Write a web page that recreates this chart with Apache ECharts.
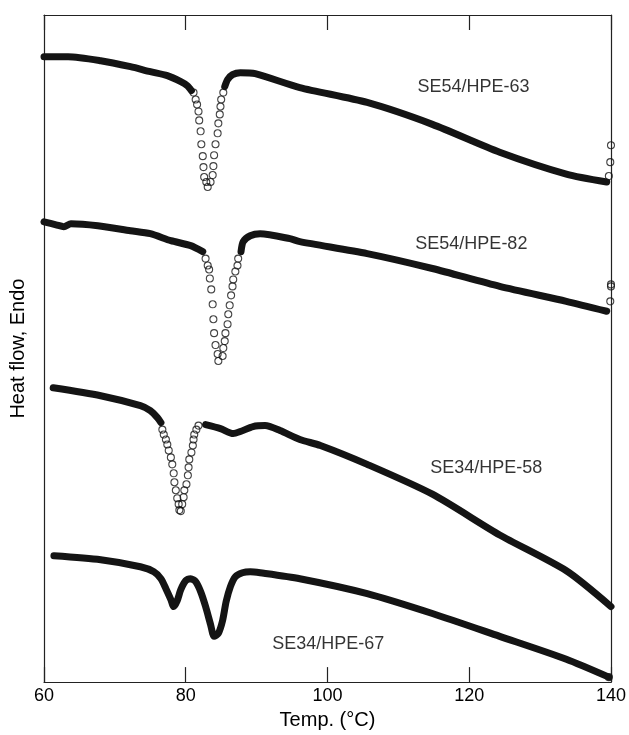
<!DOCTYPE html>
<html>
<head>
<meta charset="utf-8">
<script src="https://cdn.jsdelivr.net/npm/echarts@6/dist/echarts.min.js"></script>
<style>
html,body{margin:0;padding:0;background:#fff;}
#chart{width:629px;height:735px;}
</style>
</head>
<body>
<div id="chart"></div>
<script>
// ---- Data (temperature in °C, heat flow in arbitrary units) ----
const xTicks = [60, 80, 100, 120, 140];

// SE54/HPE-63
const hpe63_bandT  = [60.0, 63.4, 68.0, 72.2, 75.0, 77.4, 79.3, 80.2, 80.8, null, 85.5, 85.9, 86.6, 87.7, 89.8, 96.1, 105.6, 114.8, 124.3, 133.7, 139.4];
const hpe63_bandHF = [62.9, 62.9, 62.5, 61.9, 61.4, 61.0, 60.4, 60.0, 59.5, null, 59.9, 60.6, 61.1, 61.3, 61.2, 59.8, 58.3, 56.1, 53.3, 51.1, 50.3];
const hpe63_ptT  = [81.1, 81.4, 81.6, 81.8, 81.9, 82.1, 82.2, 82.4, 82.5, 82.6, 82.9, 83.1, 83.5, 83.8, 83.9, 84.0, 84.2, 84.5, 84.6, 84.8, 84.9, 85.0, 85.3, 139.7, 139.9, 140.0];
const hpe63_ptHF = [59.3, 58.6, 58.1, 57.4, 56.5, 55.4, 54.1, 52.9, 51.8, 50.8, 50.3, 49.8, 50.3, 51.0, 51.9, 53.0, 54.1, 55.2, 56.2, 57.1, 57.9, 58.6, 59.3, 50.9, 52.3, 54.0];

// SE54/HPE-82
const hpe82_bandT  = [60.0, 61.7, 62.8, 63.8, 67.6, 72.2, 75.0, 77.9, 80.7, 82.4, null, 87.8, 88.1, 89.1, 90.5, 94.7, 96.1, 105.6, 114.8, 124.3, 133.7, 139.4];
const hpe82_bandHF = [46.3, 46.0, 45.8, 46.1, 45.9, 45.4, 45.1, 44.4, 43.9, 43.3, null, 43.3, 44.3, 44.9, 45.1, 44.6, 44.3, 43.1, 41.6, 39.8, 38.3, 37.3];
const hpe82_ptT  = [82.8, 83.1, 83.3, 83.4, 83.6, 83.8, 83.9, 84.0, 84.2, 84.5, 84.6, 85.2, 85.3, 85.5, 85.6, 85.9, 86.0, 86.2, 86.4, 86.6, 86.7, 87.0, 87.3, 87.4, 139.9, 140.0, 140.0];
const hpe82_ptHF = [42.6, 41.9, 41.5, 40.6, 39.5, 38.0, 36.5, 35.1, 33.9, 33.0, 32.3, 32.8, 33.6, 34.3, 35.1, 36.0, 37.0, 37.9, 38.9, 39.8, 40.5, 41.3, 41.9, 42.6, 38.3, 39.8, 40.0];

// SE34/HPE-58
const hpe58_bandT  = [61.3, 68.0, 73.6, 75.0, 76.0, 76.5, null, 82.8, 84.9, 86.7, 87.7, 89.5, 91.2, 93.3, 96.1, 99.0, 105.6, 114.8, 124.3, 133.7, 140.0];
const hpe58_bandHF = [29.6, 28.8, 27.8, 27.3, 26.6, 26.1, null, 25.9, 25.5, 25.0, 25.2, 25.7, 25.8, 25.3, 24.4, 23.8, 21.9, 18.9, 14.8, 11.2, 7.6];
const hpe58_ptT  = [76.7, 76.9, 77.2, 77.4, 77.6, 77.9, 78.1, 78.3, 78.4, 78.6, 78.8, 79.0, 79.1, 79.3, 79.5, 79.7, 79.8, 80.1, 80.3, 80.4, 80.5, 80.8, 81.0, 81.1, 81.2, 81.5, 81.8];
const hpe58_ptHF = [25.4, 24.9, 24.4, 23.9, 23.3, 22.6, 21.9, 21.0, 20.1, 19.3, 18.5, 17.9, 17.3, 17.2, 17.9, 18.6, 19.3, 19.9, 20.8, 21.6, 22.4, 23.1, 23.8, 24.4, 24.9, 25.4, 25.8];

// SE34/HPE-67
const hpe67_bandT  = [61.4, 68.0, 73.6, 75.5, 76.5, 77.2, 77.9, 78.3, 78.8, 79.3, 80.0, 80.7, 81.4, 82.1, 82.8, 83.5, 84.0, 84.6, 85.2, 85.7, 86.3, 87.0, 88.0, 89.1, 90.5, 96.1, 105.6, 114.8, 124.3, 133.7, 139.7];
const hpe67_bandHF = [12.7, 12.3, 11.6, 11.1, 10.4, 9.4, 8.3, 7.6, 8.2, 9.3, 10.2, 10.4, 10.1, 9.1, 7.6, 5.8, 4.6, 4.9, 6.2, 8.1, 9.6, 10.6, 11.0, 11.1, 11.0, 10.4, 8.9, 6.9, 4.6, 2.3, 0.5];
const hpe67_ptT  = [139.7];
const hpe67_ptHF = [0.5];

// Curve labels: [temperature, heat flow, text]
const curveLabels = [
  [120.6, 59.9, 'SE54/HPE-63'],
  [120.3, 44.1, 'SE54/HPE-82'],
  [122.4, 21.5, 'SE34/HPE-58'],
  [100.1, 3.8, 'SE34/HPE-67']
];

// ---- Chart ----
const FONT = 'Liberation Sans, Arial, Helvetica, sans-serif';
const INK = '#141414';
function pairs(t, h) { return t.map((v, i) => (v === null ? [null, null] : [v, h[i]])); }
function band(t, h) {
  return {
    type: 'line', data: pairs(t, h), showSymbol: false, smooth: 0.25,
    connectNulls: false, clip: false, silent: true, xAxisIndex: 0, yAxisIndex: 0,
    lineStyle: { color: INK, width: 7, cap: 'round', join: 'round' }
  };
}
function pts(t, h) {
  return {
    type: 'scatter', data: pairs(t, h), symbol: 'circle', symbolSize: 7, clip: false, silent: true,
    xAxisIndex: 0, yAxisIndex: 0,
    itemStyle: { color: 'rgba(0,0,0,0)', borderColor: INK, borderWidth: 1.1 }
  };
}

const chart = echarts.init(document.getElementById('chart'), null, { renderer: 'canvas' });
const axisLineStyle = { color: '#222', width: 1.2 };
chart.setOption({
  animation: false,
  backgroundColor: '#fff',
  grid: { left: 43, right: 17, top: 15, bottom: 49, containLabel: false },
  xAxis: [
    {
      type: 'value', position: 'bottom', min: 60, max: 140, interval: 20,
      name: 'Temp. (°C)', nameLocation: 'middle', nameGap: 26,
      nameTextStyle: { fontFamily: FONT, fontSize: 20, color: '#000' },
      axisLine: { show: true, onZero: false, lineStyle: axisLineStyle },
      axisTick: { show: true, inside: true, length: 15, lineStyle: axisLineStyle },
      axisLabel: { show: true, fontFamily: FONT, fontSize: 18, color: '#000', margin: 5 },
      splitLine: { show: false }
    },
    {
      type: 'value', position: 'top', min: 60, max: 140, interval: 20,
      axisLine: { show: true, onZero: false, lineStyle: axisLineStyle },
      axisTick: { show: true, inside: true, length: 15, lineStyle: axisLineStyle },
      axisLabel: { show: false },
      splitLine: { show: false }
    }
  ],
  yAxis: [
    {
      type: 'value', position: 'left', min: 0, max: 67.1,
      name: 'Heat flow, Endo', nameLocation: 'middle', nameGap: 16, nameRotate: 90,
      nameTextStyle: { fontFamily: FONT, fontSize: 20, color: '#000' },
      axisLine: { show: true, onZero: false, lineStyle: axisLineStyle },
      axisTick: { show: false }, axisLabel: { show: false }, splitLine: { show: false }
    },
    {
      type: 'value', position: 'right', min: 0, max: 67.1,
      axisLine: { show: true, onZero: false, lineStyle: axisLineStyle },
      axisTick: { show: false }, axisLabel: { show: false }, splitLine: { show: false }
    }
  ],
  series: [
    band(hpe63_bandT, hpe63_bandHF), pts(hpe63_ptT, hpe63_ptHF),
    band(hpe82_bandT, hpe82_bandHF), pts(hpe82_ptT, hpe82_ptHF),
    band(hpe58_bandT, hpe58_bandHF), pts(hpe58_ptT, hpe58_ptHF),
    band(hpe67_bandT, hpe67_bandHF), pts(hpe67_ptT, hpe67_ptHF),
    {
      type: 'scatter', data: curveLabels, symbolSize: 1, silent: true, clip: false,
      xAxisIndex: 0, yAxisIndex: 0,
      itemStyle: { color: 'rgba(0,0,0,0)' },
      label: { show: true, position: 'inside', formatter: p => p.value[2],
        fontFamily: FONT, fontSize: 18, color: '#000' }
    }
  ]
});
</script>
</body>
</html>
